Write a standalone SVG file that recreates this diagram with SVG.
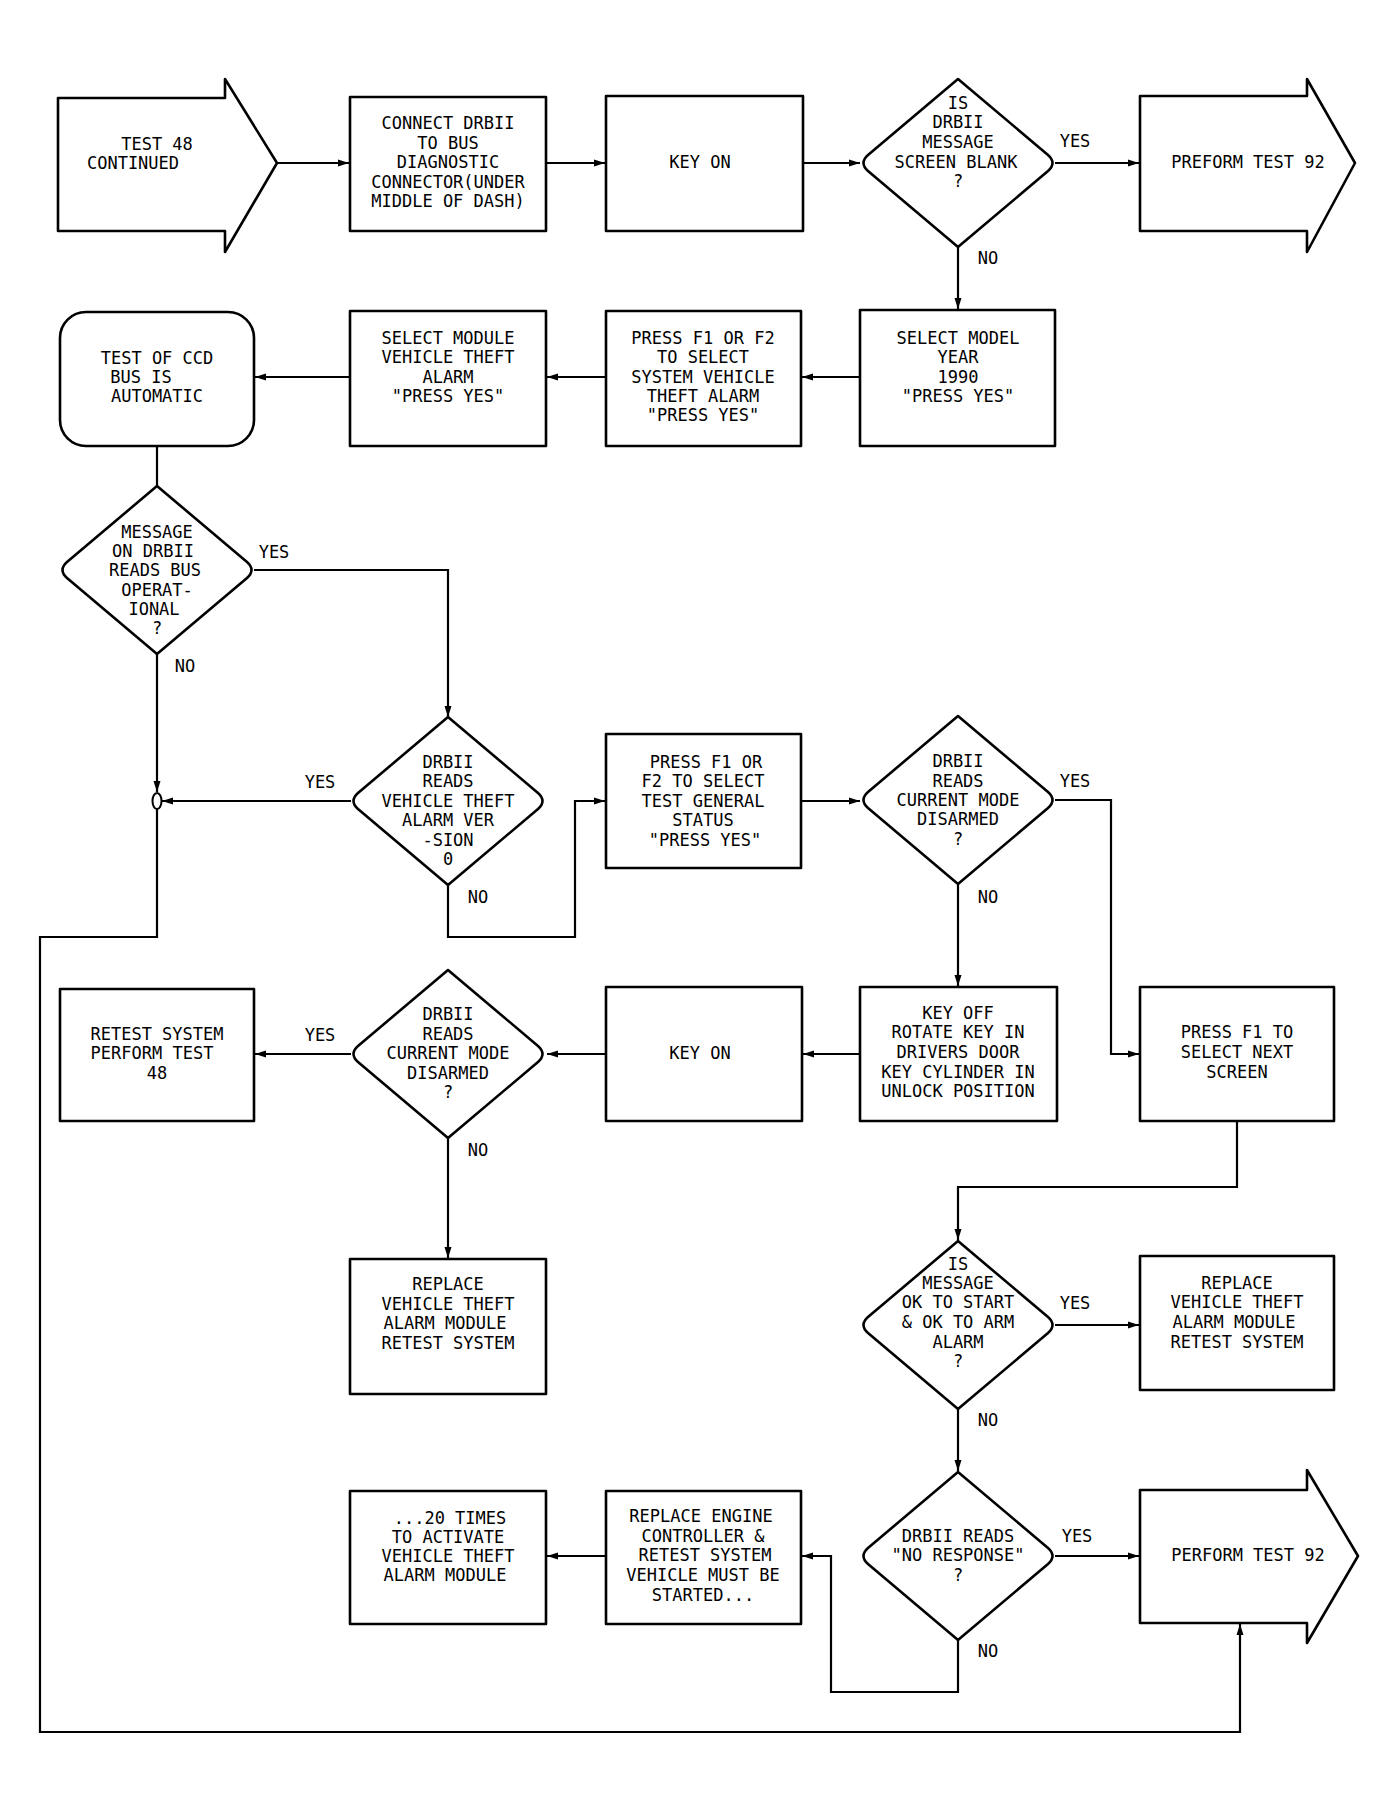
<svg xmlns="http://www.w3.org/2000/svg" width="1396" height="1810" viewBox="0 0 1396 1810">
<style>
.n{fill:#fff;stroke:#000;stroke-width:2.6;stroke-linejoin:round}
.c{fill:none;stroke:#000;stroke-width:2.2}
text{font-family:"DejaVu Sans Mono","Liberation Mono",monospace;font-size:17px;fill:#000;text-anchor:middle;dominant-baseline:central}
</style>
<defs>
<marker id="a" markerUnits="userSpaceOnUse" markerWidth="12" markerHeight="10" refX="11" refY="5" orient="auto">
<path d="M0,1.5 L11,5 L0,8.5 Z" fill="#000"/>
</marker>
</defs>
<rect width="1396" height="1810" fill="#fff"/>

<g id="connectors">
<path class="c" d="M277,163 H349" marker-end="url(#a)"/>
<path class="c" d="M546,163 H605" marker-end="url(#a)"/>
<path class="c" d="M803,163 H860" marker-end="url(#a)"/>
<path class="c" d="M1055,163 H1139" marker-end="url(#a)"/>
<path class="c" d="M958,247 V309" marker-end="url(#a)"/>
<path class="c" d="M860,377 H802" marker-end="url(#a)"/>
<path class="c" d="M606,377 H547" marker-end="url(#a)"/>
<path class="c" d="M350,377 H255" marker-end="url(#a)"/>
<path class="c" d="M157,446 V486"/>
<path class="c" d="M254,570 H448 V717" marker-end="url(#a)"/>
<path class="c" d="M157,654 V792" marker-end="url(#a)"/>
<path class="c" d="M351,801 H162" marker-end="url(#a)"/>
<ellipse cx="157" cy="801" rx="4.5" ry="8" fill="#fff" stroke="#000" stroke-width="2"/>
<path class="c" d="M157,809 V937 H40 V1732 H1240 V1624" marker-end="url(#a)"/>
<path class="c" d="M448,885 V937 H575 V801 H605" marker-end="url(#a)"/>
<path class="c" d="M801,801 H860" marker-end="url(#a)"/>
<path class="c" d="M1055,800 H1111 V1054 H1139" marker-end="url(#a)"/>
<path class="c" d="M958,884 V986" marker-end="url(#a)"/>
<path class="c" d="M860,1054 H803" marker-end="url(#a)"/>
<path class="c" d="M606,1054 H547" marker-end="url(#a)"/>
<path class="c" d="M351,1054 H255" marker-end="url(#a)"/>
<path class="c" d="M448,1138 V1258" marker-end="url(#a)"/>
<path class="c" d="M1237,1121 V1187 H958 V1240" marker-end="url(#a)"/>
<path class="c" d="M1055,1325 H1139" marker-end="url(#a)"/>
<path class="c" d="M958,1409 V1471" marker-end="url(#a)"/>
<path class="c" d="M1055,1556 H1139" marker-end="url(#a)"/>
<path class="c" d="M958,1640 V1692 H831 V1556 H802" marker-end="url(#a)"/>
<path class="c" d="M606,1556 H547" marker-end="url(#a)"/>
<text x="1075" y="141">YES</text>
<text x="988" y="258">NO</text>
<text x="274" y="552">YES</text>
<text x="185" y="666">NO</text>
<text x="320" y="782">YES</text>
<text x="478" y="897">NO</text>
<text x="1075" y="781">YES</text>
<text x="988" y="897">NO</text>
<text x="320" y="1035">YES</text>
<text x="478" y="1150">NO</text>
<text x="1075" y="1303">YES</text>
<text x="988" y="1420">NO</text>
<text x="1077" y="1536">YES</text>
<text x="988" y="1651">NO</text>
</g>

<g id="start">
<path class="n" d="M58,98 H225 V79 L277,163 L225,252 V231 H58 Z"/>
<text x="157" y="144">TEST 48</text>
<text x="133" y="163">CONTINUED</text>
</g>
<g id="connect">
<rect class="n" x="350" y="97" width="196" height="134"/>
<text x="448" y="123">CONNECT DRBII</text>
<text x="448" y="143">TO BUS</text>
<text x="448" y="162">DIAGNOSTIC</text>
<text x="448" y="182">CONNECTOR(UNDER</text>
<text x="448" y="201">MIDDLE OF DASH)</text>
</g>
<g id="keyon1">
<rect class="n" x="606" y="96" width="197" height="135"/>
<text x="700" y="162">KEY ON</text>
</g>
<g id="d1">
<path class="n" d="M958,79 L1048,155 Q1057,163 1048,171 L958,247 L868,171 Q859,163 868,155 Z"/>
<text x="958" y="103">IS</text>
<text x="958" y="122">DRBII</text>
<text x="958" y="142">MESSAGE</text>
<text x="956" y="162">SCREEN BLANK</text>
<text x="958" y="181">?</text>
</g>
<g id="preform">
<path class="n" d="M1140,96 H1307 V79 L1355,163 L1307,252 V231 H1140 Z"/>
<text x="1248" y="162">PREFORM TEST 92</text>
</g>

<g id="model">
<rect class="n" x="860" y="310" width="195" height="136"/>
<text x="958" y="338">SELECT MODEL</text>
<text x="958" y="357">YEAR</text>
<text x="958" y="377">1990</text>
<text x="958" y="396">"PRESS YES"</text>
</g>
<g id="pressf1a">
<rect class="n" x="606" y="311" width="195" height="135"/>
<text x="703" y="338">PRESS F1 OR F2</text>
<text x="703" y="357">TO SELECT</text>
<text x="703" y="377">SYSTEM VEHICLE</text>
<text x="703" y="396">THEFT ALARM</text>
<text x="703" y="415">"PRESS YES"</text>
</g>
<g id="selmod">
<rect class="n" x="350" y="311" width="196" height="135"/>
<text x="448" y="338">SELECT MODULE</text>
<text x="448" y="357">VEHICLE THEFT</text>
<text x="448" y="377">ALARM</text>
<text x="448" y="396">"PRESS YES"</text>
</g>
<g id="ccd">
<rect class="n" x="60" y="312" width="194" height="134" rx="26"/>
<text x="157" y="358">TEST OF CCD</text>
<text x="141" y="377">BUS IS</text>
<text x="157" y="396">AUTOMATIC</text>
</g>

<g id="d2">
<path class="n" d="M157,486 L247,562 Q256,570 247,578 L157,654 L67,578 Q58,570 67,562 Z"/>
<text x="157" y="532">MESSAGE</text>
<text x="153" y="551">ON DRBII</text>
<text x="155" y="570">READS BUS</text>
<text x="157" y="590">OPERAT-</text>
<text x="154" y="609">IONAL</text>
<text x="157" y="628">?</text>
</g>
<g id="d3">
<path class="n" d="M448,717 L538,793 Q547,801 538,809 L448,885 L358,809 Q349,801 358,793 Z"/>
<text x="448" y="762">DRBII</text>
<text x="448" y="781">READS</text>
<text x="448" y="801">VEHICLE THEFT</text>
<text x="448" y="820">ALARM VER</text>
<text x="448" y="840">-SION</text>
<text x="448" y="859">0</text>
</g>
<g id="pressf1b">
<rect class="n" x="606" y="734" width="195" height="134"/>
<text x="706" y="762">PRESS F1 OR</text>
<text x="703" y="781">F2 TO SELECT</text>
<text x="703" y="801">TEST GENERAL</text>
<text x="703" y="820">STATUS</text>
<text x="705" y="840">"PRESS YES"</text>
</g>
<g id="d4">
<path class="n" d="M958,716 L1048,792 Q1057,800 1048,808 L958,884 L868,808 Q859,800 868,792 Z"/>
<text x="958" y="761">DRBII</text>
<text x="958" y="781">READS</text>
<text x="958" y="800">CURRENT MODE</text>
<text x="958" y="819">DISARMED</text>
<text x="958" y="839">?</text>
</g>

<g id="retest">
<rect class="n" x="60" y="989" width="194" height="132"/>
<text x="157" y="1034">RETEST SYSTEM</text>
<text x="152" y="1053">PERFORM TEST</text>
<text x="157" y="1073">48</text>
</g>
<g id="d5">
<path class="n" d="M448,970 L538,1046 Q547,1054 538,1062 L448,1138 L358,1062 Q349,1054 358,1046 Z"/>
<text x="448" y="1014">DRBII</text>
<text x="448" y="1034">READS</text>
<text x="448" y="1053">CURRENT MODE</text>
<text x="448" y="1073">DISARMED</text>
<text x="448" y="1092">?</text>
</g>
<g id="keyon2">
<rect class="n" x="606" y="987" width="196" height="134"/>
<text x="700" y="1053">KEY ON</text>
</g>
<g id="keyoff">
<rect class="n" x="860" y="987" width="197" height="134"/>
<text x="958" y="1013">KEY OFF</text>
<text x="958" y="1032">ROTATE KEY IN</text>
<text x="958" y="1052">DRIVERS DOOR</text>
<text x="958" y="1072">KEY CYLINDER IN</text>
<text x="958" y="1091">UNLOCK POSITION</text>
</g>
<g id="next">
<rect class="n" x="1140" y="987" width="194" height="134"/>
<text x="1237" y="1032">PRESS F1 TO</text>
<text x="1237" y="1052">SELECT NEXT</text>
<text x="1237" y="1072">SCREEN</text>
</g>

<g id="replace1">
<rect class="n" x="350" y="1259" width="196" height="135"/>
<text x="448" y="1284">REPLACE</text>
<text x="448" y="1304">VEHICLE THEFT</text>
<text x="445" y="1323">ALARM MODULE</text>
<text x="448" y="1343">RETEST SYSTEM</text>
</g>
<g id="d6">
<path class="n" d="M958,1241 L1048,1317 Q1057,1325 1048,1333 L958,1409 L868,1333 Q859,1325 868,1317 Z"/>
<text x="958" y="1264">IS</text>
<text x="958" y="1283">MESSAGE</text>
<text x="958" y="1302">OK TO START</text>
<text x="958" y="1322">&amp; OK TO ARM</text>
<text x="958" y="1342">ALARM</text>
<text x="958" y="1361">?</text>
</g>
<g id="replace2">
<rect class="n" x="1140" y="1256" width="194" height="134"/>
<text x="1237" y="1283">REPLACE</text>
<text x="1237" y="1302">VEHICLE THEFT</text>
<text x="1234" y="1322">ALARM MODULE</text>
<text x="1237" y="1342">RETEST SYSTEM</text>
</g>

<g id="times20">
<rect class="n" x="350" y="1491" width="196" height="133"/>
<text x="450" y="1518">...20 TIMES</text>
<text x="448" y="1537">TO ACTIVATE</text>
<text x="448" y="1556">VEHICLE THEFT</text>
<text x="445" y="1575">ALARM MODULE</text>
</g>
<g id="engine">
<rect class="n" x="606" y="1491" width="195" height="133"/>
<text x="701" y="1516">REPLACE ENGINE</text>
<text x="703" y="1536">CONTROLLER &amp;</text>
<text x="705" y="1555">RETEST SYSTEM</text>
<text x="703" y="1575">VEHICLE MUST BE</text>
<text x="703" y="1595">STARTED...</text>
</g>
<g id="d7">
<path class="n" d="M958,1472 L1048,1548 Q1057,1556 1048,1564 L958,1640 L868,1564 Q859,1556 868,1548 Z"/>
<text x="958" y="1536">DRBII READS</text>
<text x="958" y="1555">"NO RESPONSE"</text>
<text x="958" y="1575">?</text>
</g>
<g id="perform">
<path class="n" d="M1140,1490 H1307 V1470 L1358,1556 L1307,1643 V1623 H1140 Z"/>
<text x="1248" y="1555">PERFORM TEST 92</text>
</g>
</svg>
